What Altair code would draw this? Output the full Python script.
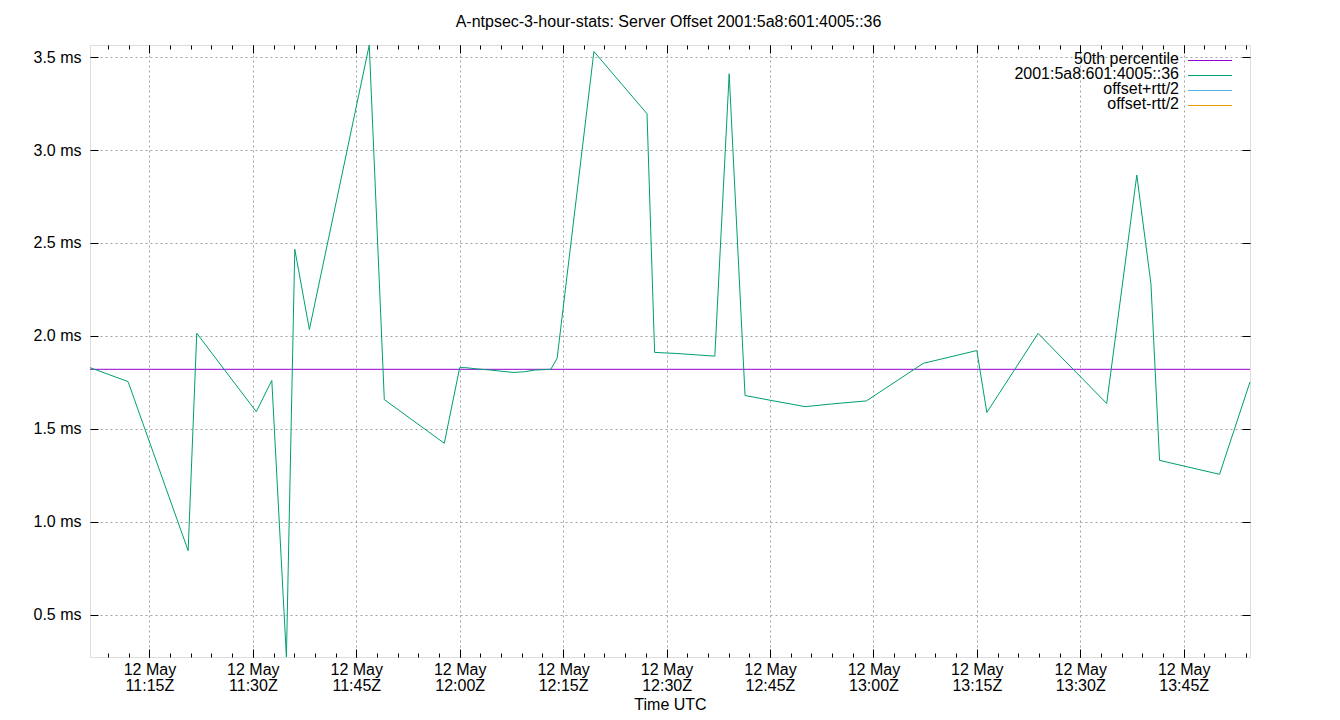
import altair as alt
import pandas as pd

FONT = "Liberation Sans"

# ---- data ----
title_text = ["A-ntpsec-3-hour-stats: Server Offset 2001:5a8:601:4005::36"]
times = [
    "2024-05-12T11:06:23Z", "2024-05-12T11:11:54Z", "2024-05-12T11:20:37Z", "2024-05-12T11:21:52Z",
    "2024-05-12T11:30:30Z", "2024-05-12T11:32:45Z", "2024-05-12T11:34:52Z", "2024-05-12T11:36:05Z",
    "2024-05-12T11:38:12Z", "2024-05-12T11:46:53Z", "2024-05-12T11:49:04Z", "2024-05-12T11:57:46Z",
    "2024-05-12T12:00:00Z", "2024-05-12T12:00:50Z", "2024-05-12T12:02:31Z", "2024-05-12T12:04:27Z",
    "2024-05-12T12:06:10Z", "2024-05-12T12:07:52Z", "2024-05-12T12:09:25Z", "2024-05-12T12:10:53Z",
    "2024-05-12T12:13:13Z", "2024-05-12T12:14:08Z", "2024-05-12T12:19:28Z", "2024-05-12T12:27:10Z",
    "2024-05-12T12:28:16Z", "2024-05-12T12:31:30Z", "2024-05-12T12:37:00Z", "2024-05-12T12:39:05Z",
    "2024-05-12T12:41:23Z", "2024-05-12T12:45:06Z", "2024-05-12T12:50:07Z", "2024-05-12T12:53:47Z",
    "2024-05-12T12:58:59Z", "2024-05-12T13:07:14Z", "2024-05-12T13:15:00Z", "2024-05-12T13:16:27Z",
    "2024-05-12T13:23:53Z", "2024-05-12T13:33:50Z", "2024-05-12T13:38:12Z", "2024-05-12T13:40:15Z",
    "2024-05-12T13:41:30Z", "2024-05-12T13:50:12Z", "2024-05-12T13:54:37Z",
]
offsets_ms = [
    1.829, 1.754, 0.844, 2.014,
    1.592, 1.760, 0.272, 2.466,
    2.034, 3.565, 1.657, 1.422,
    1.829, 1.829, 1.822, 1.816,
    1.809, 1.803, 1.807, 1.816,
    1.820, 1.880, 3.530, 3.195,
    1.911, 1.905, 1.891, 3.410,
    1.679, 1.653, 1.619, 1.633,
    1.650, 1.852, 1.921, 1.588,
    2.013, 1.636, 2.865, 2.280,
    1.330, 1.255, 1.752,
]
p50_value = [1.82]
legend_labels = ["50th percentile", "2001:5a8:601:4005::36", "offset+rtt/2", "offset-rtt/2"]
legend_colors = ["#9400d3", "#009e73", "#56b4e9", "#e69f00"]
y_tick_values = [0.5, 1.0, 1.5, 2.0, 2.5, 3.0, 3.5]
major_tick_times = pd.date_range("2024-05-12T11:15:00Z", "2024-05-12T13:45:00Z", freq="15min")
minor_tick_times = pd.date_range("2024-05-12T11:09:00Z", "2024-05-12T13:54:00Z", freq="3min")


def to_ms(ts):
    return int(pd.Timestamp(ts).value // 10**6)


major_ms = [to_ms(t) for t in major_tick_times]
minor_ms = [to_ms(t) for t in minor_tick_times]

df = pd.DataFrame({"time": times, "offset": offsets_ms})
p50_df = pd.DataFrame({"p50": p50_value})
legend_df = pd.DataFrame({"label": legend_labels, "color": legend_colors, "i": list(range(len(legend_labels)))})
title_df = pd.DataFrame({"t": title_text})

xscale = alt.Scale(type="utc", domain=[to_ms(times[0]), to_ms(times[-1])], nice=False)
yscale = alt.Scale(domain=[min(offsets_ms), max(offsets_ms)], nice=False, zero=False)

GRID = dict(gridColor="#a0a0a0", gridDash=[2, 3], gridWidth=1)
TICK = dict(tickColor="black", tickWidth=1, domain=False, labels=False, grid=False, title="")

x_label_axis = alt.Axis(
    orient="bottom", values=major_ms, ticks=False, tickSize=0, domain=False, grid=True, **GRID,
    labelExpr="[utcFormat(datum.value, '%d %b'), utcFormat(datum.value, '%H:%MZ')]",
    labelFont=FONT, labelFontSize=16, labelColor="black", labelLineHeight=16,
    labelBaseline="top", labelPadding=4, labelFlush=False, labelOverlap=False,
    title="Time UTC", titleFont=FONT, titleFontSize=16, titleFontWeight="normal",
    titleColor="black", titlePadding=3,
)
y_label_axis = alt.Axis(
    orient="left", values=y_tick_values, ticks=False, tickSize=0, domain=False, grid=True, **GRID,
    labelExpr="format(datum.value, '.1f') + ' ms'",
    labelFont=FONT, labelFontSize=16, labelColor="black", labelPadding=9,
    labelBaseline="middle", labelFlush=False, labelOverlap=False, title="",
)


def tick_layer(xaxis, yaxis):
    return alt.Chart(df).mark_line(strokeOpacity=0).encode(
        x=alt.X("time:T", scale=xscale, axis=xaxis),
        y=alt.Y("offset:Q", scale=yscale, axis=yaxis),
    )


base = tick_layer(x_label_axis, y_label_axis)
t1 = tick_layer(
    alt.Axis(orient="bottom", values=major_ms, tickSize=8, offset=-8, **TICK),
    alt.Axis(orient="left", values=y_tick_values, tickSize=8, offset=-8, **TICK),
)
t2 = tick_layer(
    alt.Axis(orient="bottom", values=minor_ms, tickSize=4, offset=-4, **TICK),
    alt.Axis(orient="right", values=y_tick_values, tickSize=8, offset=-8, **TICK),
)
t3 = tick_layer(
    alt.Axis(orient="top", values=major_ms, tickSize=8, offset=-8, **TICK),
    None,
)
t4 = tick_layer(
    alt.Axis(orient="top", values=minor_ms, tickSize=4, offset=-4, **TICK),
    None,
)

p50 = alt.Chart(p50_df).mark_rule(color="#9400d3", strokeWidth=1).encode(
    y=alt.Y("p50:Q", scale=yscale, axis=None)
)

line = alt.Chart(df).mark_line(color="#009e73", strokeWidth=1).encode(
    x=alt.X("time:T", scale=xscale, axis=None),
    y=alt.Y("offset:Q", scale=yscale, axis=None),
)

leg_lines = alt.Chart(legend_df).transform_calculate(
    lx1="1098", lx2="1142", ly="15.5 + datum.i * 15"
).mark_rule(strokeWidth=1).encode(
    x=alt.X("lx1:Q", scale=None, axis=None),
    x2="lx2:Q",
    y=alt.Y("ly:Q", scale=None, axis=None),
    color=alt.Color("color:N", scale=None, legend=None),
)

leg_text = alt.Chart(legend_df).transform_calculate(
    tx="1089", ty="19 + datum.i * 15"
).mark_text(align="right", baseline="alphabetic", font=FONT, fontSize=16, color="black").encode(
    x=alt.X("tx:Q", scale=None, axis=None),
    y=alt.Y("ty:Q", scale=None, axis=None),
    text="label:N",
)

title_mark = alt.Chart(title_df).transform_calculate(
    tx="578.5", ty="-18"
).mark_text(align="center", baseline="alphabetic", font=FONT, fontSize=16, color="black").encode(
    x=alt.X("tx:Q", scale=None, axis=None),
    y=alt.Y("ty:Q", scale=None, axis=None),
    text="t:N",
)

chart = alt.layer(base, t1, t2, t3, t4, p50, line, leg_lines, leg_text, title_mark).resolve_axis(
    x="independent", y="independent"
).properties(
    width=1160,
    height=612,
    padding={"left": 82, "top": 37, "right": 82, "bottom": 55},
    autosize=alt.AutoSizeParams(type="none"),
).configure_view(stroke="black", strokeWidth=1).configure(background="white")

chart.save("out.html", embed_options={"renderer": "svg", "actions": False})
